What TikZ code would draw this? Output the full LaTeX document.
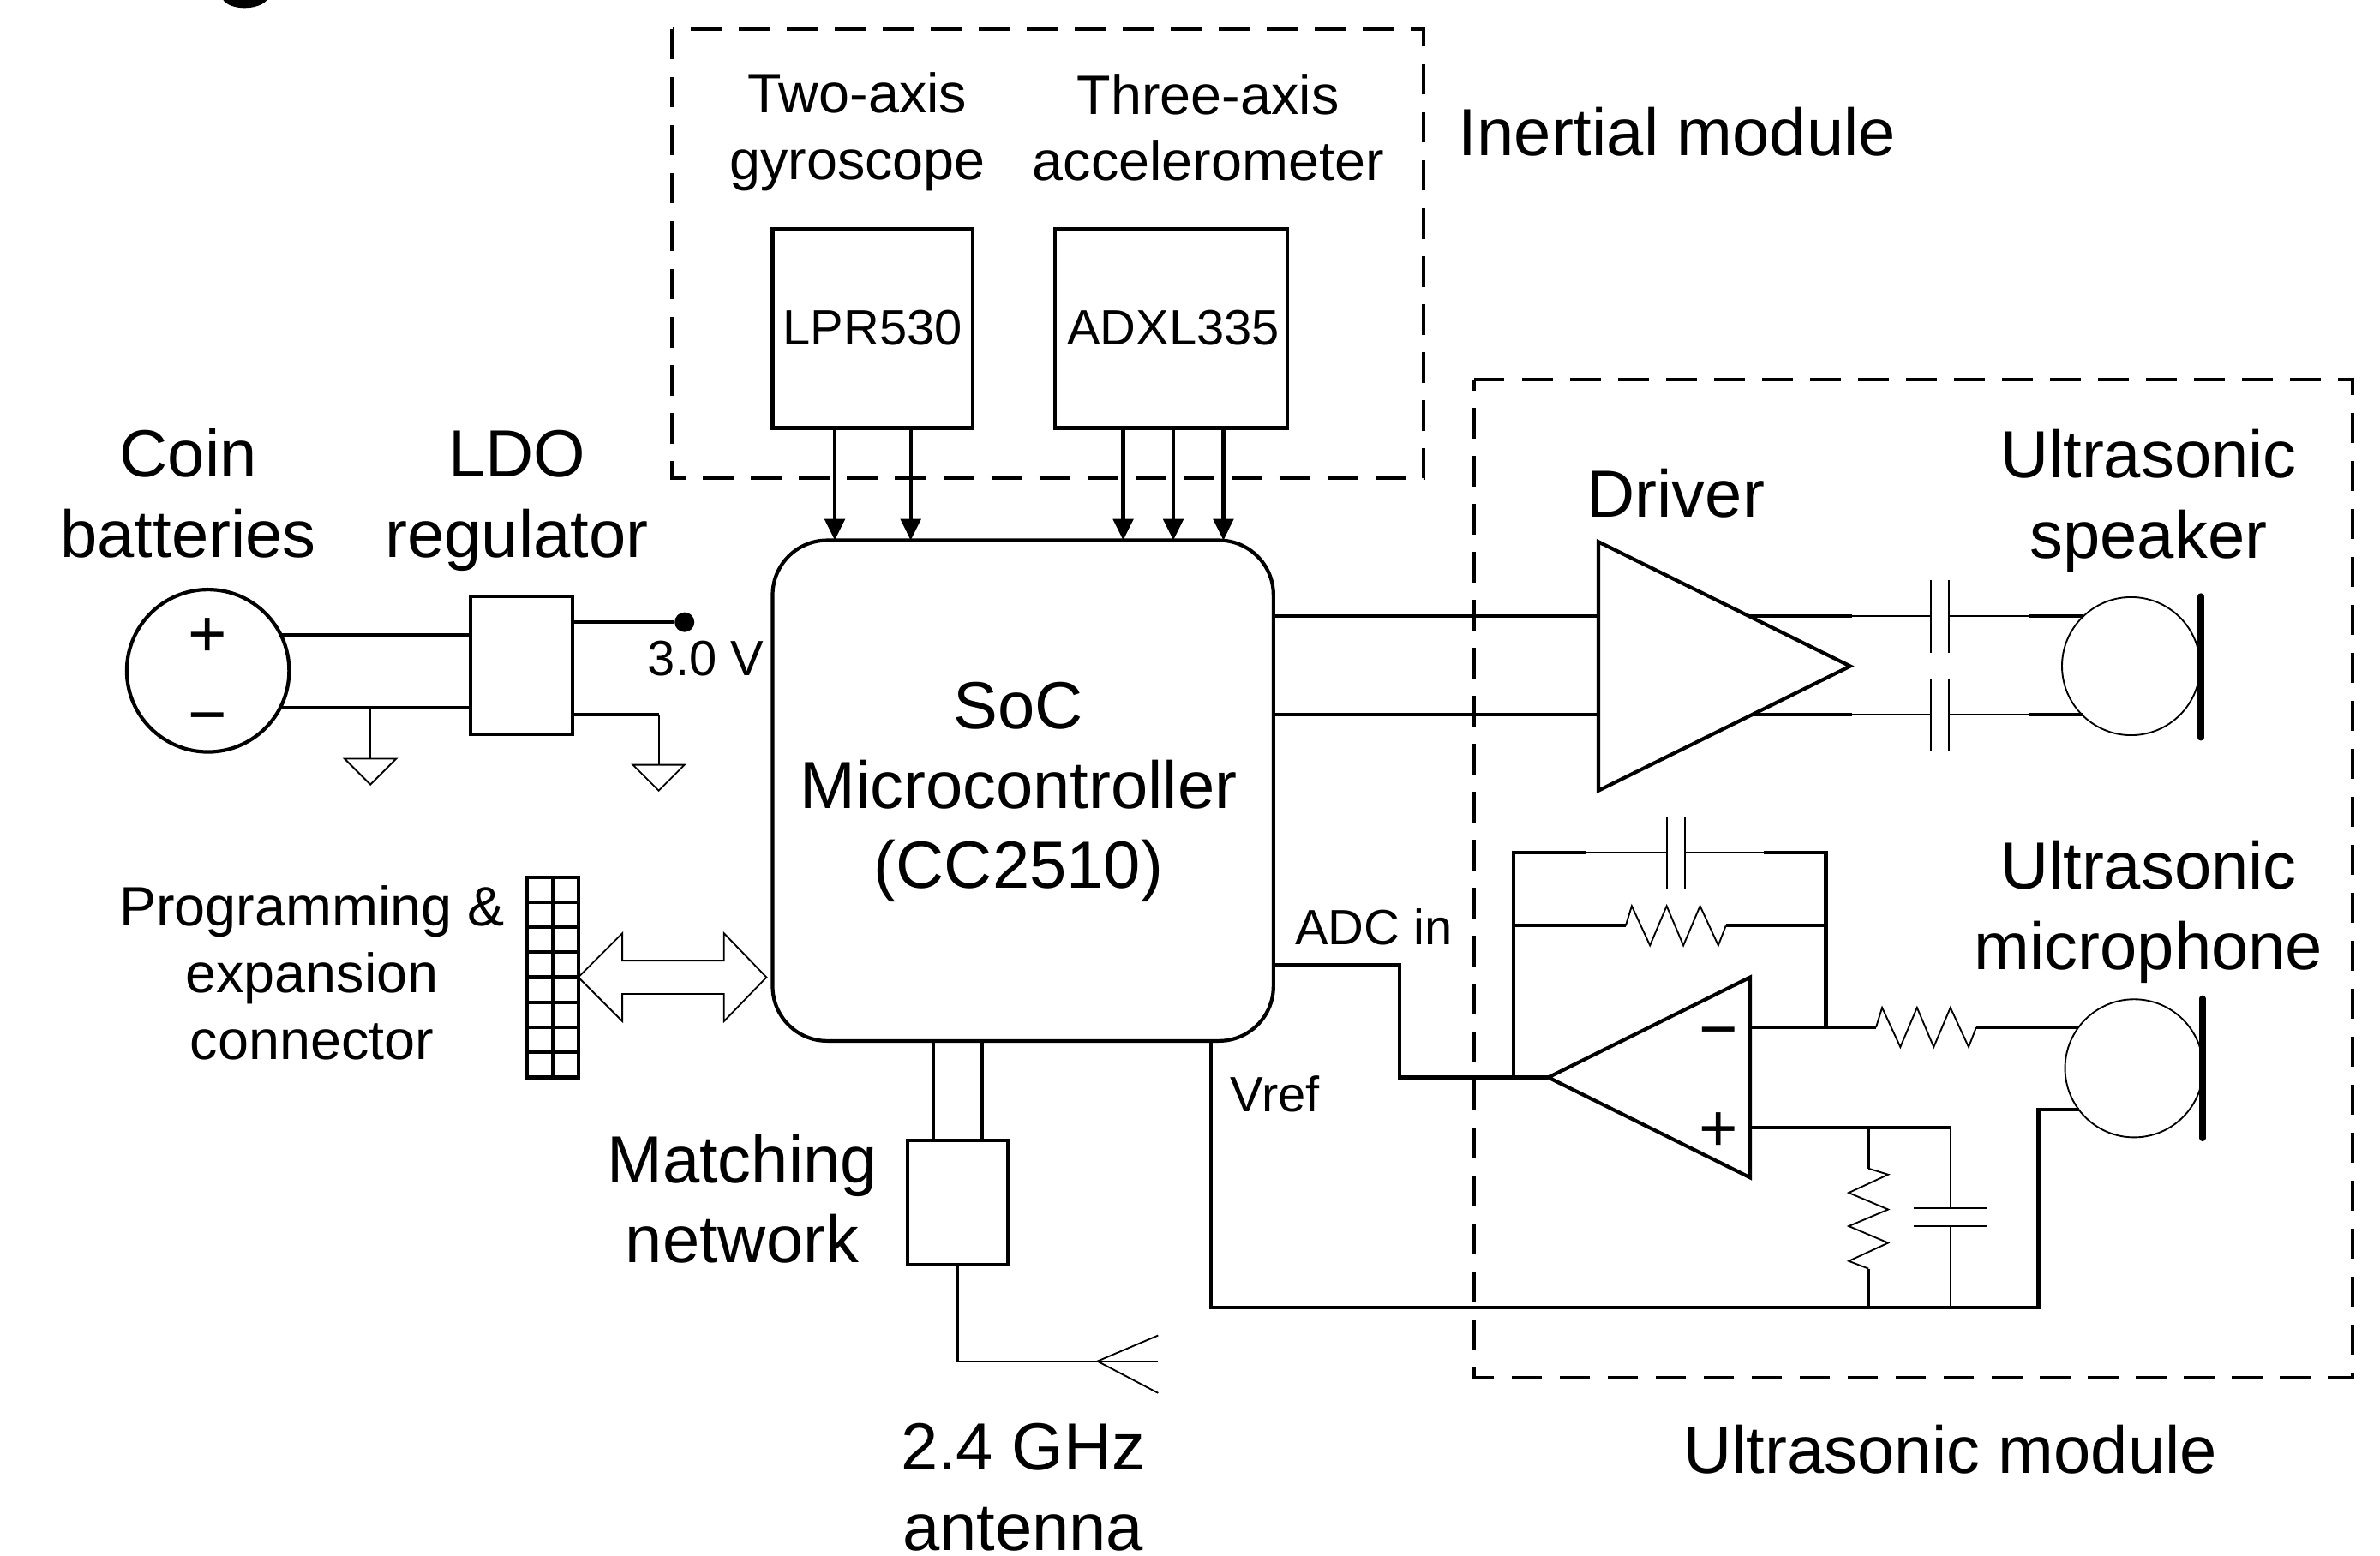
\documentclass[tikz,border=0pt]{standalone}
\usepackage{fontspec}
\setmainfont{Liberation Sans}
\usepackage{tikz}
\usetikzlibrary{arrows.meta}
\tikzset{
  wire/.style={line width=1.35pt},
  thinwire/.style={line width=0.6pt},
  bigtext/.style={inner sep=0pt,align=center,font=\fontsize{25}{30}\selectfont},
  midtext/.style={inner sep=0pt,align=center,font=\fontsize{20.8}{25}\selectfont},
  smalltext/.style={inner sep=0pt,font=\fontsize{18.6}{22}\selectfont},
  blockbox/.style={draw,wire,inner sep=0pt,outer sep=0pt},
  modulebox/.style={wire,dash pattern=on 11.5pt off 6.5pt},
  sigarrow/.style={wire,-{Triangle[length=8pt,width=7.5pt]}},
  reszig/.pic={
    \draw[thinwire,line join=miter] (0,0) -- (4,-13) -- (16,13) -- (27,-13) -- (38,13) -- (49,-13) -- (61,13) -- (66,0);
    \coordinate (-a) at (0,0);
    \coordinate (-b) at (66,0);
  },
  capsym/.pic={
    \draw[thinwire] (0,-24) -- (0,24);
    \draw[thinwire] (12,-24) -- (12,24);
    \coordinate (-a) at (0,0);
    \coordinate (-b) at (12,0);
  },
  gndsym/.pic={
    \draw[thinwire] (-17,0) -- (17,0) -- (0,17) -- cycle;
    \coordinate (-top) at (0,0);
  }
}
\begin{document}
\begin{tikzpicture}[x=0.02cm,y=-0.02cm]
\useasboundingbox (0,0) rectangle (1568,1025);
\fill (147,0) .. controls (152,7) and (170,7) .. (176,0) -- cycle;
\draw[modulebox] (443,19) rectangle (938,315);
\draw[modulebox] (971,250) -- (1550,250) -- (1550,908) -- (971,908) -- cycle;
\node[bigtext] (inertlbl) at (1105,87) {Inertial module};
\node[bigtext] (ultralbl) at (1285,955) {Ultrasonic module};
\node[midtext] (gyrolbl) at (565,87) {Two-axis\\gyroscope};
\node[midtext] (acclbl) at (796,84) {Three-axis\\accelerometer};
\node[blockbox,minimum width=2.64cm,minimum height=2.62cm] (lpr) at (575,216.5) {};
\node[smalltext] (lprlbl) at (575,216) {LPR530};
\node[blockbox,minimum width=3.06cm,minimum height=2.62cm] (adxl) at (771.5,216.5) {};
\node[smalltext] (adxllbl) at (773,216) {ADXL335};
\node[blockbox,rounded corners=0.72cm,minimum width=6.6cm,minimum height=6.6cm] (soc) at (674,521) {};
\node[bigtext] (soclbl) at (671,522) {SoC\\Microcontroller\\(CC2510)};
\foreach \gx in {550,600} \draw[sigarrow] (\gx,0 |- lpr.south) -- (\gx,0 |- soc.north);
\foreach \ax in {740,773,806} \draw[sigarrow] (\ax,0 |- adxl.south) -- (\ax,0 |- soc.north);
\node[bigtext] (coinlbl) at (124,325) {Coin\\batteries};
\node[bigtext] (ldolbl) at (340.5,330) {LDO\\regulator};
\node[draw,wire,circle,inner sep=0pt,outer sep=0pt,minimum size=2.14cm] (bat) at (137,442) {};
\node[bigtext] (batplus) at (137,420) {+};
\node[bigtext] (batminus) at (137,478) {−};
\node[blockbox,minimum width=1.34cm,minimum height=1.82cm] (ldo) at (343.5,438.5) {};
\draw[wire] (bat.26) -- (bat.26 -| ldo.west);
\draw[wire] (bat.-27) -- (bat.-27 -| ldo.west);
\node[fill,circle,inner sep=0pt,minimum size=0.26cm] (vdot) at (451,410) {};
\node[smalltext] (vlbl) at (465,434) {3.0 V};
\draw[wire] (ldo.east |- vdot) -- (vdot);
\pic (gnda) at (244,500) {gndsym};
\pic (gndb) at (434,504) {gndsym};
\draw[thinwire] (gnda-top |- bat.-27) -- (gnda-top);
\draw[wire] (ldo.east |- 0,471) -- (gndb-top |- 0,471);
\draw[thinwire] (gndb-top |- 0,471) -- (gndb-top);
\node[midtext] (connlbl) at (205.5,641) {Programming \&\\expansion\\connector};
\node[blockbox,minimum width=0.68cm,minimum height=2.64cm] (conn) at (364,644) {};
\draw[wire] (conn.north) -- (conn.south);
\foreach \ry in {594.5,611,627.5,644,660.5,677,693.5} \draw[wire] (conn.west |- 0,\ry) -- (conn.east |- 0,\ry);
\coordinate (linktip) at (505,644);
\draw[thinwire] (conn.east) -- ++(29,-29) -- ++(0,18) -- ++(67,0) -- ++(0,-18) -- (linktip) -- ++(-28,29) -- ++(0,-18) -- ++(-67,0) -- ++(0,18) -- cycle;
\node[blockbox,minimum width=1.32cm,minimum height=1.64cm] (match) at (631,792.5) {};
\node[bigtext] (matchlbl) at (489,790) {Matching\\network};
\draw[wire] (615,0 |- soc.south) -- (615,0 |- match.north);
\draw[wire] (647,0 |- soc.south) -- (647,0 |- match.north);
\coordinate (antfork) at (723,897);
\draw[line width=1.1pt] (match.south) -- (match.south |- antfork);
\draw[thinwire] (match.south |- antfork) -- (763,897);
\draw[thinwire] (763,880) -- (antfork) -- (763,918);
\node[bigtext] (antlbl) at (674,980) {2.4 GHz\\antenna};
\coordinate (drvtop) at (1053,357);
\coordinate (drvbot) at (1053,521);
\coordinate (drvtip) at (1219,439);
\draw[wire,line join=miter] (drvtop) -- (drvtip) -- (drvbot) -- cycle;
\node[bigtext] (drvlbl) at (1104,325) {Driver};
\draw[wire] (soc.east |- 0,406) -- (drvtop |- 0,406);
\draw[wire] (soc.east |- 0,471) -- (drvtop |- 0,471);
\node[draw,thinwire,circle,inner sep=0pt,outer sep=0pt,minimum size=1.82cm] (spk) at (1404,439) {};
\draw[line width=2.4pt,line cap=round] (1450,393) -- (1450,486);
\node[bigtext] (spklbl) at (1415.5,330) {Ultrasonic\\speaker};
\pic (capa) at (1272,406) {capsym};
\pic (capb) at (1272,471) {capsym};
\draw[wire] (1152,406) -- (1220,406);
\draw[thinwire] (1220,406) -- (capa-a);
\draw[thinwire] (capa-b) -- (1337,406);
\draw[wire] (1337,406) -- (spk.134 |- 0,406);
\draw[wire] (1154,471) -- (1220,471);
\draw[thinwire] (1220,471) -- (capb-a);
\draw[thinwire] (capb-b) -- (1337,471);
\draw[wire] (1337,471) -- (spk.226 |- 0,471);
\coordinate (opatip) at (1020,710);
\coordinate (opatop) at (1153,644);
\coordinate (opabot) at (1153,776);
\draw[wire,line join=miter] (opatip) -- (opatop) -- (opabot) -- cycle;
\node[bigtext] (opaminus) at (1132,685) {−};
\node[bigtext] (opaplus) at (1132,746) {+};
\node[draw,thinwire,circle,inner sep=0pt,outer sep=0pt,minimum size=1.82cm] (mic) at (1406,704) {};
\draw[line width=2.4pt,line cap=round] (1451,658) -- (1451,750);
\node[bigtext] (miclbl) at (1415.5,601) {Ultrasonic\\microphone};
\node[smalltext] (adclbl) at (905,611) {ADC in};
\node[smalltext] (vreflbl) at (840,721) {Vref};
\draw[wire] (soc.east |- 0,636) -| (922,710) -- (opatip);
\pic (capc) at (1098,562) {capsym};
\draw[wire] (997,710) -- (997,562) -- (1045,562);
\draw[thinwire] (1045,562) -- (capc-a);
\draw[thinwire] (capc-b) -- (1162,562);
\draw[wire] (1162,562) -- (1203,562) -- (1203,677);
\pic (resa) at (1071,610) {reszig};
\draw[wire] (997,610) -- (resa-a);
\draw[wire] (resa-b) -- (1203,610);
\pic (resb) at (1236,677) {reszig};
\draw[wire] (opatop |- 0,677) -- (resb-a);
\draw[wire] (resb-b) -- (mic.144 |- 0,677);
\coordinate (refjoin) at (1285,743);
\draw[wire] (opatop |- refjoin) -- (refjoin);
\pic[rotate=-90] (resc) at (1231,770) {reszig};
\pic[rotate=-90] (capd) at (1285,796) {capsym};
\draw[wire] (1231,743) -- (resc-a);
\draw[thinwire] (refjoin) -- (capd-a);
\draw[thinwire] (capd-b) -- (1285,861.5);
\draw[wire] (resc-b) -- (1231,861.5);
\draw[wire] (798,0 |- soc.south) -- (798,861.5) -- (1343,861.5) -- (1343,0 |- mic.217) -- (mic.217);
\end{tikzpicture}
\end{document}
